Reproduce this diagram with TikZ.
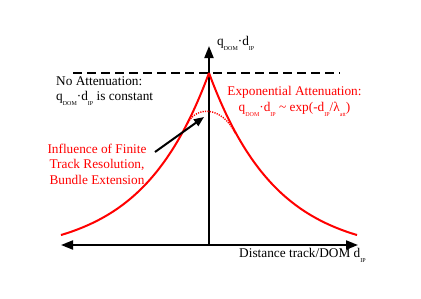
\documentclass[tikz,border=0pt]{standalone}
\usepackage{fontspec}
\setmainfont{Liberation Serif}
\usetikzlibrary{arrows.meta}
\newcommand{\lsub}[1]{\raisebox{-0.38em}{\fontsize{6}{6}\selectfont #1}}
\begin{document}
\begin{tikzpicture}[x=1pt,y=-1pt,
  axis/.style={line width=2pt,black},
  tip/.style={-{Triangle[length=12pt,width=9pt]}},
  curve/.style={red,line width=2pt},
  lbl/.style={inner sep=0pt,font=\fontsize{13.3}{15.5}\selectfont},
  redlbl/.style={lbl,text=red}]
\useasboundingbox (0,0) rectangle (421,298);
% axes
\coordinate (origin) at (209,245);
\coordinate (ytop) at (209,46);
\coordinate (xleft) at (61,245);
\coordinate (xright) at (358,245);
\draw[axis,tip] (origin) -- (ytop);
\draw[axis,{Triangle[length=12pt,width=9pt]}-{Triangle[length=12pt,width=9pt]}] (xleft) -- (xright);
% dashed level
\coordinate (dl) at (73,73);
\coordinate (dr) at (340,73);
\draw[line width=2pt,dash pattern=on 9pt off 5pt] (dl) -- (dr);
% exponential branches
\draw[curve] plot[domain=0:148,samples=80,smooth] ({209-\x},{255-182*exp(-\x/67)});
\draw[curve] plot[domain=0:148,samples=80,smooth] ({209+\x},{255-182*exp(-\x/67)});
% dotted smoothed peak
\coordinate (al) at (188,123);
\coordinate (ar) at (235,133);
\draw[red,line width=1.4pt,dash pattern=on 1.2pt off 1.2pt] (al) .. controls (196,106) and (222,106) .. (ar);
% labels
\node[lbl,anchor=west] (ylab) at (217,43) {q\lsub{DOM}·d\lsub{IP}};
\node[lbl,anchor=west,align=left] (noatt) at (56,91) {No Attenuation:\\q\lsub{DOM}·d\lsub{IP} is constant};
\node[redlbl,align=center] (expatt) at (294.5,101.5) {Exponential Attenuation:\\q\lsub{DOM}·d\lsub{IP} \textasciitilde{} exp(-d\lsub{IP}/λ\lsub{att})};
\node[redlbl,align=center] (infl) at (97,164) {Influence of Finite\\Track Resolution,\\Bundle Extension};
\node[lbl,anchor=west] (xlab) at (239,255) {Distance track/DOM d\lsub{IP}};
% pointer arrow
\coordinate (pstart) at (155,152);
\coordinate (ptip) at (204,117);
\draw[line width=2pt,-{Triangle[length=10pt,width=8pt]}] (pstart) -- (ptip);
\end{tikzpicture}
\end{document}
